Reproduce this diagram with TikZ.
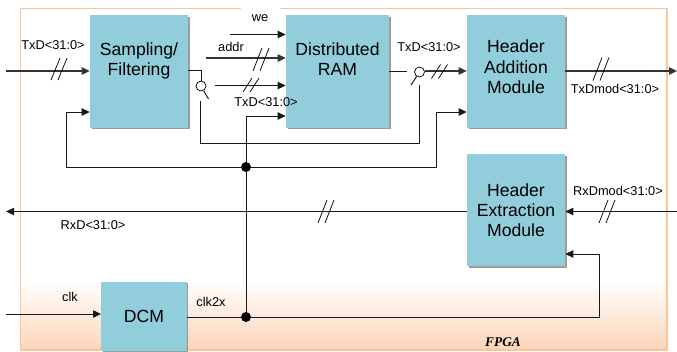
\documentclass[tikz,border=0pt]{standalone}
\usepackage{fontspec}
\setmainfont{Liberation Sans}
\newfontfamily\fpgafont{Liberation Serif}
\usetikzlibrary{arrows.meta,shadows}
\definecolor{blockblue}{HTML}{92CDDC}
\definecolor{framepeach}{HTML}{FAC59A}
\definecolor{fillpeach}{HTML}{FBD5B9}
\begin{document}
\begin{tikzpicture}[
    x=0.75pt, y=-0.75pt,
    >={Stealth[length=6pt,width=5.5pt,inset=0pt]},
    block/.style={rectangle, fill=blockblue, font=\fontsize{13.2pt}{15.2pt}\selectfont, align=center, inner sep=0pt,
      drop shadow={shadow xshift=1.2pt, shadow yshift=-1.2pt, fill=black!55, opacity=0.7}},
    lab/.style={font=\fontsize{9.6pt}{11pt}\selectfont, inner sep=0pt},
    wire/.style={draw, line width=0.75pt, black!90},
    bus/.style={wire, line width=0.95pt, black!80},
    tick/.style={draw, line width=0.55pt},
    switch/.style={circle, draw, line width=0.55pt, fill=white, minimum size=7.5pt, inner sep=0pt},
    joint/.style={circle, fill=black, minimum size=7.5pt, inner sep=0pt}
]
  \useasboundingbox (0,0) rectangle (677,351);
  % fpga area
  \shade[top color=white, bottom color=fillpeach] (20.5,280) rectangle (667,350);
  \draw[framepeach, line width=1.1pt] (241,8.5) -- (20.5,8.5) -- (20.5,350) -- (667,350) -- (667,8.5) -- (280,8.5);
  \node[font=\fpgafont\bfseries\itshape\fontsize{10pt}{11pt}\selectfont, inner sep=0pt] (fpga) at (503,342) {FPGA};
  % blocks
  \node[block, minimum width=73.5pt, minimum height=84.5pt] (samp) at (139,71.5) {Sampling/\\Filtering\\[3pt]};
  \node[block, minimum width=77.25pt, minimum height=84.5pt] (ram) at (337.5,71.5) {Distributed\\RAM\\[3pt]};
  \node[block, minimum width=73.5pt, minimum height=84.5pt] (hadd) at (516,71.5) {Header\\Addition\\Module\\[-8pt]};
  \node[block, minimum width=73.5pt, minimum height=84pt] (hext) at (516,210) {Header\\Extraction\\Module};
  \node[block, minimum width=64pt, minimum height=52pt, drop shadow={opacity=0}] (dcm) at (144,316.5) {DCM};
  % switches and joints
  \node[switch] (swa) at (201,86) {};
  \node[switch] (swb) at (419.5,72) {};
  \node[joint] (ja) at (246,167) {};
  \node[joint] (jb) at (246,317) {};
  % free ends
  \coordinate (txdin) at (6,71);
  \coordinate (weend) at (230,34.5);
  \coordinate (addrend) at (206,58);
  \coordinate (txdend) at (215,85.5);
  \coordinate (clkin) at (6,314);
  \coordinate (rxdout) at (6,211.5);
  \coordinate (rxdin) at (677,211.5);
  \coordinate (txdout) at (677,71);
  \coordinate (swaout) at (200,101);
  \coordinate (swbin) at (419.5,85);
  \coordinate (swalever) at (208.5,99);
  \coordinate (swblever) at (411,85);
  % data path
  \draw[bus,->] (txdin) -- (txdin -| samp.west);
  \draw[wire] (samp.east |- 0,70.5) -| (swa.north);
  \draw[wire] (swa) -- (swalever);
  \draw[wire] (swaout) |- (swbin |- 0,143) -- (swbin);
  \draw[wire] (ram.east |- 0,71) -- (407,71);
  \draw[wire] (swb) -- (swblever);
  \draw[bus,->] (swb.east |- 0,71) -- (hadd.west |- 0,71);
  \draw[bus,->] (hadd.east |- txdout) -- (txdout);
  \draw[wire,->] (weend) -- (weend -| ram.west);
  \draw[bus,->] (addrend) -- (addrend -| ram.west);
  \draw[wire,->] (txdend) -- (txdend -| ram.west);
  \draw[wire,->] (rxdin) -- (rxdin -| hext.east);
  \draw[wire,->] (rxdin -| hext.west) -- (rxdout);
  % clock and feedback
  \draw[wire,->] (clkin) -- (clkin -| dcm.west);
  \draw[wire] (dcm.east |- jb) -- (jb);
  \draw[wire,->] (jb) -- (599,317) -- (599,254) -- (hext.east |- 0,254);
  \draw[wire] (jb) -- (ja);
  \draw[wire,->] (ja) -- (246,116) -- (ram.west |- 0,116);
  \draw[wire,->] (ja) -- (66,167) -- (66,112) -- (samp.west |- 0,112);
  \draw[wire,->] (ja) -- (436,167) -- (436,112) -- (hadd.west |- 0,112);
  % bus ticks
  \foreach \sx/\sy/\sh in {59/69/11, 261/59.5/11.5, 251/85/7, 439.5/71.5/7, 601/69/11.5, 326/211.5/11.5, 607/211.5/11.5} {
    \draw[tick] (\sx-8,\sy+\sh) -- (\sx+1,\sy-\sh);
    \draw[tick] (\sx-1,\sy+\sh) -- (\sx+8,\sy-\sh);
  }
  % labels
  \node[lab] (txda) at (53,45) {TxD<31:0>};
  \node[lab] (we) at (260,18) {we};
  \node[lab] (addr) at (231,47) {addr};
  \node[lab] (txdb) at (266,102) {TxD<31:0>};
  \node[lab] (txdc) at (429,47) {TxD<31:0>};
  \node[lab] (txdmod) at (615,89) {TxDmod<31:0>};
  \node[lab] (rxdmod) at (618,191) {RxDmod<31:0>};
  \node[lab] (rxd) at (93,225) {RxD<31:0>};
  \node[lab] (clk) at (70,297) {clk};
  \node[lab] (clkx) at (211,302) {clk2x};
\end{tikzpicture}
\end{document}
